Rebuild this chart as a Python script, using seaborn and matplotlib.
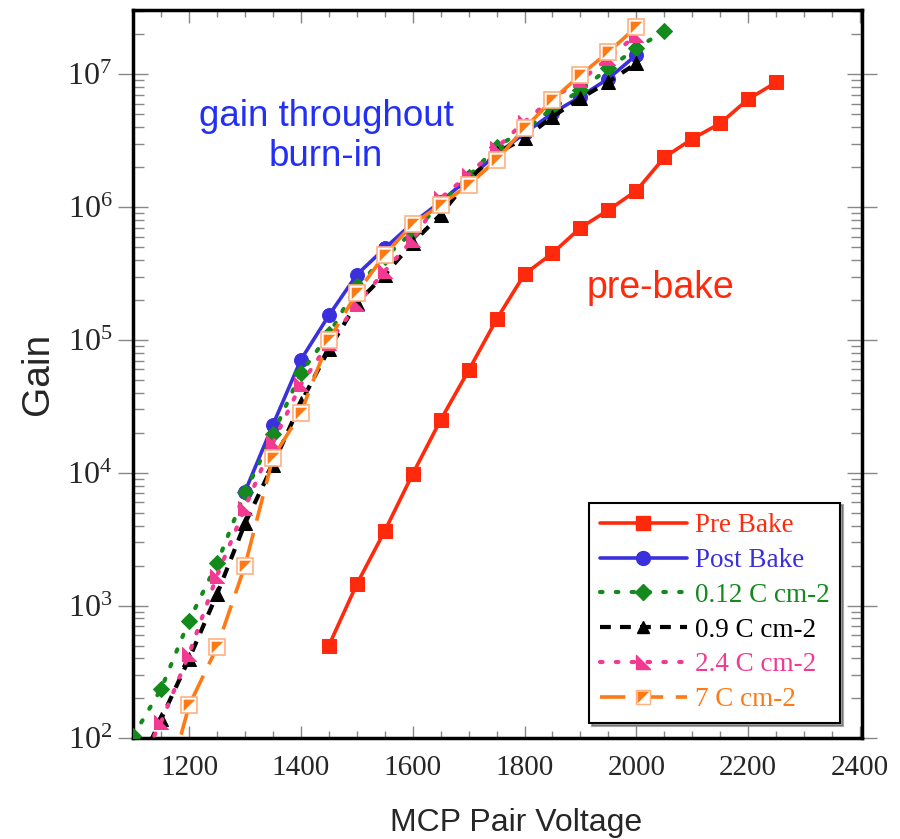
import numpy as np
import pandas as pd
import seaborn as sns
import matplotlib
matplotlib.use("Agg")
import matplotlib.pyplot as plt
from matplotlib.path import Path
from matplotlib.lines import Line2D
from matplotlib.legend_handler import HandlerTuple

# ---------------- data ----------------
pre_v = [1450, 1500, 1550, 1600, 1650, 1700, 1750, 1800, 1850, 1900, 1950, 2000,
         2050, 2100, 2150, 2200, 2250]
pre_g = [500, 1450, 3650, 9800, 25000, 59000, 1.43e5, 3.13e5, 4.5e5, 7.0e5, 9.5e5,
         1.33e6, 2.37e6, 3.27e6, 4.28e6, 6.5e6, 8.7e6]

post_v = [1300, 1350, 1400, 1450, 1500, 1550, 1600, 1650, 1700, 1750, 1800, 1850,
          1900, 1950, 2000]
post_g = [7200, 23000, 71000, 1.53e5, 3.1e5, 4.9e5, 7.6e5, 1.1e6, 1.65e6, 2.5e6,
          3.6e6, 5.1e6, 6.8e6, 9.3e6, 1.4e7]

c012_v = [1100, 1150, 1200, 1250, 1300, 1350, 1400, 1450, 1500, 1550, 1600, 1650,
          1700, 1750, 1800, 1850, 1900, 1950, 2000, 2050]
c012_g = [104, 236, 770, 2080, 7100, 19500, 56600, 1.1e5, 2.54e5, 4.2e5, 6.5e5,
          1.05e6, 1.7e6, 2.86e6, 3.8e6, 5.55e6, 7.6e6, 1.11e7, 1.57e7, 2.12e7]

c09_v = [1100, 1150, 1200, 1250, 1300, 1350, 1400, 1450, 1500, 1550, 1600, 1650,
         1700, 1750, 1800, 1850, 1900, 1950, 2000]
c09_g = [50, 140, 397, 1220, 4150, 11500, 33700, 85000, 1.9e5, 3.1e5, 5.4e5,
         8.8e5, 1.6e6, 2.55e6, 3.3e6, 4.8e6, 6.6e6, 8.8e6, 1.21e7]

c24_v = [1100, 1150, 1200, 1250, 1300, 1350, 1400, 1450, 1500, 1550, 1600, 1650,
         1700, 1750, 1800, 1850, 1900, 1950, 2000]
c24_g = [50, 133, 433, 1680, 5470, 16900, 46300, 95000, 1.85e5, 3.3e5, 5.7e5,
         1.17e6, 1.75e6, 2.79e6, 4.4e6, 6.6e6, 9.0e6, 1.32e7, 1.98e7]

c7_v = [1150, 1200, 1250, 1300, 1350, 1400, 1450, 1500, 1550, 1600, 1650, 1700,
        1750, 1800, 1850, 1900, 1950, 2000]
c7_g = [30, 177, 486, 2000, 13000, 28300, 1.0e5, 2.26e5, 4.39e5, 7.46e5, 1.04e6,
        1.47e6, 2.27e6, 3.93e6, 6.42e6, 9.9e6, 1.47e7, 2.28e7]

labels = ["Pre Bake", "Post Bake", "0.12 C cm-2", "0.9 C cm-2", "2.4 C cm-2", "7 C cm-2"]
x_ticks = [1200, 1400, 1600, 1800, 2000, 2200, 2400]

# ---------------- style ----------------
sns.set_style("ticks")
plt.rcParams["font.family"] = ["Liberation Sans", "DejaVu Sans"]
plt.rcParams["mathtext.fontset"] = "stix"

RED = "#ff2a0c"
BLUE = "#3a30dc"
GREEN = "#14891c"
BLACK = "#000000"
PINK = "#f23a92"
ORANGE = "#ff7a14"

tri_pink = Path([(-1, 1), (-1, -1), (1, -1), (-1, 1)], closed=True)
tri_orange = Path([(-1, 1), (1, 1), (-1, -1), (-1, 1)], closed=True)

fig = plt.figure(figsize=(9, 8.39), dpi=100)
ax = fig.add_axes([0.148, 0.12, 0.81, 0.868])

def series(v, g, **kw):
    df = pd.DataFrame({"v": v, "g": g})
    sns.lineplot(data=df, x="v", y="g", ax=ax, sort=False, legend=False, **kw)

series(pre_v, pre_g, color=RED, lw=2.6, marker="s", markersize=10,
       markeredgecolor=RED, zorder=3)
series(post_v, post_g, color=BLUE, lw=2.6, marker="o", markersize=10,
       markeredgecolor=BLUE, zorder=3)
series(c012_v, c012_g, color=GREEN, lw=3, linestyle=(0, (0.6, 3.2)),
       dash_capstyle="round", marker="D", markersize=8,
       markeredgecolor=GREEN, zorder=4)
series(c09_v, c09_g, color=BLACK, lw=3, linestyle=(0, (2.6, 2.2)),
       marker="^", markersize=10, markeredgecolor=BLACK, zorder=4)
series(c24_v, c24_g, color=PINK, lw=3, linestyle=(0, (0.6, 3.2)),
       dash_capstyle="round", marker=tri_pink, markersize=10,
       markeredgecolor=PINK, zorder=5)
series(c7_v, c7_g, color=ORANGE, lw=2.6, linestyle=(0, (7, 3.5)),
       marker="s", markersize=11, markerfacecolor="white",
       markeredgecolor="#ffb080", markeredgewidth=1.2, zorder=6)
sns.scatterplot(x=c7_v, y=c7_g, ax=ax, marker=tri_orange, s=70,
                color=ORANGE, edgecolor=ORANGE, linewidth=0, zorder=7,
                legend=False)

ax.set_yscale("log")
ax.set_xlim(1100, 2404)
ax.set_ylim(100, 3.05e7)

ax.set_xticks(x_ticks)
ax.set_xticks(np.arange(1100, 2401, 50), minor=True)
ax.set_yticks([1e2, 1e3, 1e4, 1e5, 1e6, 1e7])
ax.yaxis.set_major_formatter(matplotlib.ticker.LogFormatterMathtext())
ax.yaxis.set_minor_locator(matplotlib.ticker.LogLocator(base=10, subs=np.arange(2, 10)))
ax.yaxis.set_minor_formatter(matplotlib.ticker.NullFormatter())

ax.tick_params(axis="x", which="major", direction="in", length=9, width=1,
               color="#888888", top=True, bottom=True, pad=12,
               labelsize=21, labelfontfamily="Liberation Serif")
ax.tick_params(axis="x", which="minor", direction="in", length=5, width=1,
               color="#888888", top=True, bottom=True)
ax.tick_params(axis="y", which="major", direction="inout", length=22, width=1,
               color="#888888", left=True, right=True, pad=4,
               labelsize=23, labelfontfamily="Liberation Serif")
ax.tick_params(axis="y", which="minor", direction="in", length=8, width=1,
               color="#888888", left=True, right=True)

for s in ax.spines.values():
    s.set_visible(True)
    s.set_linewidth(2.5)
    s.set_color("black")

ax.set_xlabel("MCP Pair Voltage", fontsize=23)
ax.xaxis.set_label_coords(0.525, -0.095)
ax.set_ylabel("Gain", fontsize=28, labelpad=8)

ax.text(1445, 3.4e6, "gain throughout\nburn-in", color="#2230f5", fontsize=26.5,
        ha="center", va="center", linespacing=1.2)
ax.text(2043, 2.45e5, "pre-bake", color="#ff2a0c", fontsize=27,
        ha="center", va="center")

# ---------------- legend ----------------
h_pre = Line2D([], [], color=RED, lw=2.6, marker="s", markersize=10)
h_post = Line2D([], [], color=BLUE, lw=2.6, marker="o", markersize=10)
h_012 = Line2D([], [], color=GREEN, lw=3, linestyle=(0, (0.6, 3.2)),
               dash_capstyle="round", marker="D", markersize=8)
h_09 = Line2D([], [], color=BLACK, lw=3, linestyle=(0, (2.6, 2.2)),
              marker="^", markersize=9)
h_24 = Line2D([], [], color=PINK, lw=3, linestyle=(0, (0.6, 3.2)),
              dash_capstyle="round", marker=tri_pink, markersize=10)
h_7a = Line2D([], [], color=ORANGE, lw=2.6, linestyle=(0, (7, 3.5)), marker="s",
              markersize=10, markerfacecolor="white", markeredgecolor="#ffb080")
h_7b = Line2D([], [], color=ORANGE, lw=0, marker=tri_orange, markersize=8.5,
              markeredgewidth=0)
leg = ax.legend([h_pre, h_post, h_012, h_09, h_24, (h_7a, h_7b)], labels,
                handler_map={tuple: HandlerTuple(ndivide=1)},
                loc="lower right", bbox_to_anchor=(0.97, 0.021),
                borderaxespad=0, frameon=True, fancybox=False, shadow=True,
                prop={"family": "Liberation Serif", "size": 19.5},
                handlelength=3.2, labelspacing=0.36, handletextpad=0.3,
                borderpad=0.4)
leg.get_frame().set_edgecolor("black")
leg.get_frame().set_linewidth(1.5)
for t, c in zip(leg.get_texts(), [RED, BLUE, GREEN, BLACK, PINK, ORANGE]):
    t.set_color(c)

fig.savefig("out.png", dpi=100)
